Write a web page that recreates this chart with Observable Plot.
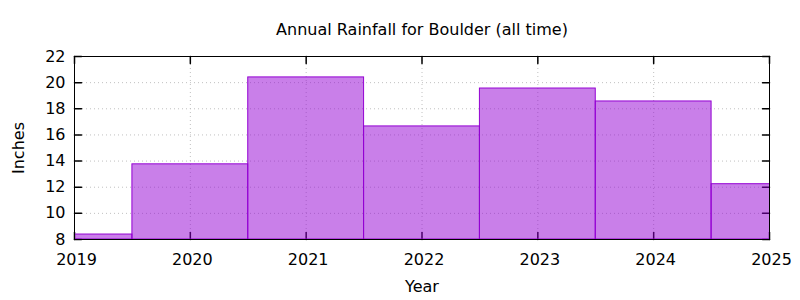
<!DOCTYPE html>
<html><head><meta charset="utf-8">
<script src="https://cdn.jsdelivr.net/npm/d3@7"></script>
<script src="https://cdn.jsdelivr.net/npm/@observablehq/plot@0.6"></script>
<style>body{margin:0;background:#fff} svg{display:block}</style>
</head><body><div id="chart"></div>
<script>
const years = [2019, 2020, 2021, 2022, 2023, 2024, 2025];
const rainfall = [8.38, 13.75, 20.4, 16.65, 19.55, 18.56, 12.23];
const xTicks = [2019, 2020, 2021, 2022, 2023, 2024, 2025];
const yTicks = [8, 10, 12, 14, 16, 18, 20, 22];
const title = "Annual Rainfall for Boulder (all time)";
const xLabel = "Year";
const yLabel = "Inches";

const data = years.map((year, i) => ({year, value: rainfall[i]}));
const xMin = xTicks[0], xMax = xTicks[xTicks.length - 1];
const yMin = yTicks[0], yMax = yTicks[yTicks.length - 1];
const tickShape = {draw(ctx, l) { ctx.moveTo(0, 0); ctx.lineTo(0, -l); }};
const grid = {stroke: "#c0c0c0", strokeDasharray: "1,3", strokeWidth: 1};
const font = "DejaVu Sans, sans-serif";

const chart = Plot.plot({
  width: 800,
  height: 300,
  marginLeft: 74,
  marginRight: 31,
  marginTop: 56,
  marginBottom: 61,
  style: {fontFamily: font, fontSize: "16px", color: "black", background: "white"},
  x: {domain: [xMin, xMax], label: null},
  y: {domain: [yMin, yMax], label: null},
  marks: [
    Plot.ruleY(yTicks.slice(1, -1), grid),
    Plot.ruleX(xTicks.slice(1, -1), grid),
    Plot.vector(yTicks, {x: xMin, y: d => d, length: 7, rotate: 90, anchor: "start", shape: tickShape, stroke: "black"}),
    Plot.vector(yTicks, {x: xMax, y: d => d, length: 7, rotate: -90, anchor: "start", shape: tickShape, stroke: "black"}),
    Plot.vector(xTicks, {x: d => d, y: yMin, length: 7, rotate: 0, anchor: "start", shape: tickShape, stroke: "black"}),
    Plot.vector(xTicks, {x: d => d, y: yMax, length: 7, rotate: 180, anchor: "start", shape: tickShape, stroke: "black"}),
    Plot.rect(data, {
      x1: d => d.year - 0.5, x2: d => d.year + 0.5,
      y1: yMin, y2: "value",
      fill: "#9400d3", fillOpacity: 0.5, stroke: "#9400d3", strokeWidth: 1,
      clip: true
    }),
    Plot.axisX({ticks: xTicks, tickSize: 0, tickPadding: 14, tickFormat: d => String(d), fontSize: 16, dx: 2, label: null}),
    Plot.axisY({ticks: yTicks, tickSize: 0, tickPadding: 9, tickFormat: d => String(d), fontSize: 16, label: null}),
    Plot.frame({stroke: "black", strokeWidth: 1}),
    Plot.text([title], {frameAnchor: "top", dy: -27, lineAnchor: "middle", textAnchor: "middle", fontSize: 16}),
    Plot.text([xLabel], {frameAnchor: "bottom", dy: 47, lineAnchor: "middle", textAnchor: "middle", fontSize: 16}),
    Plot.text([yLabel], {frameAnchor: "left", dx: -56, rotate: -90, lineAnchor: "middle", textAnchor: "middle", fontSize: 16})
  ]
});
document.getElementById("chart").appendChild(chart);
</script>
</body></html>
